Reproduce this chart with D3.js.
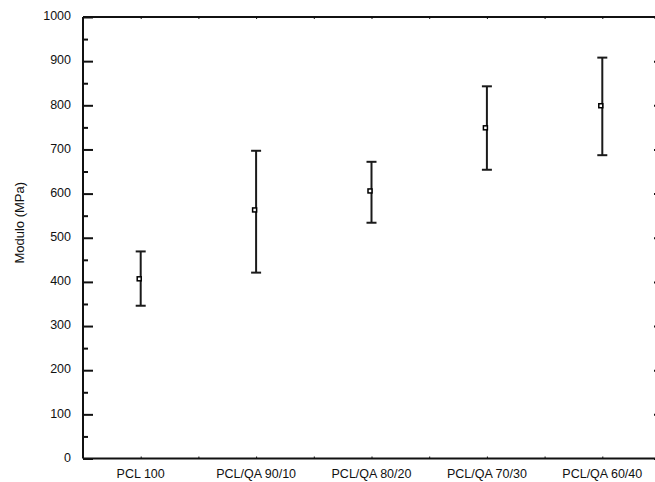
<!DOCTYPE html>
<html>
<head>
<meta charset="utf-8">
<script src="https://cdn.jsdelivr.net/npm/d3@7"></script>
<style>
  html, body { margin: 0; padding: 0; background: #fff; }
  svg { display: block; }
  text { font-family: Arial, "Liberation Sans", sans-serif; fill: #111; }
</style>
</head>
<body>
<script>
// ---- data ----
const categories = ["PCL 100", "PCL/QA 90/10", "PCL/QA 80/20", "PCL/QA 70/30", "PCL/QA 60/40"];
const meanValues = [407, 563, 606, 749, 799];
const upperValues = [469, 697, 672, 843, 908];
const lowerValues = [346, 421, 534, 654, 687];
const yTickValues = [0, 100, 200, 300, 400, 500, 600, 700, 800, 900, 1000];
const yMinorValues = [50, 150, 250, 350, 450, 550, 650, 750, 850, 950];
const yLabel = "Modulo (MPa)";

// ---- layout ----
const W = 655, H = 482;
const plotLeft = 83, plotTop = 17, plotBottom = 458.5, rightFrame = 664;

const svg = d3.select("body").append("svg").attr("width", W).attr("height", H);

const x = d3.scaleLinear().domain([0.5, 5.5]).range([plotLeft, 660]);
const y = d3.scaleLinear().domain([0, 1000]).range([plotBottom, plotTop]);

const axisColor = "#111";

// frame
const frame = svg.append("g");
frame.append("line").attr("x1", plotLeft).attr("x2", plotLeft).attr("y1", plotTop).attr("y2", plotBottom)
  .attr("stroke", axisColor).attr("stroke-width", 2);
frame.append("line").attr("x1", plotLeft).attr("x2", rightFrame).attr("y1", plotTop).attr("y2", plotTop)
  .attr("stroke", axisColor).attr("stroke-width", 2);
frame.append("line").attr("x1", plotLeft).attr("x2", rightFrame).attr("y1", plotBottom).attr("y2", plotBottom)
  .attr("stroke", axisColor).attr("stroke-width", 2);
frame.append("line").attr("x1", rightFrame).attr("x2", rightFrame).attr("y1", plotTop).attr("y2", plotBottom)
  .attr("stroke", axisColor).attr("stroke-width", 2);

// left axis (ticks inward)
const yAxisLeft = d3.axisLeft(y).tickValues(yTickValues).tickSizeInner(-10).tickSizeOuter(0).tickPadding(12)
  .tickFormat(d3.format("d"));
const gL = svg.append("g").attr("transform", `translate(${plotLeft},0)`).call(yAxisLeft);
gL.select(".domain").remove();
gL.selectAll(".tick line").attr("stroke", axisColor).attr("stroke-width", 2);
gL.selectAll(".tick text").attr("font-size", "12.5px").attr("dy", "0.22em")
  .style("font-family", "Arial, 'Liberation Sans', sans-serif").attr("fill", "#111");

const yMinorLeft = d3.axisLeft(y).tickValues(yMinorValues).tickSizeInner(-5).tickSizeOuter(0).tickFormat("");
const gLm = svg.append("g").attr("transform", `translate(${plotLeft},0)`).call(yMinorLeft);
gLm.select(".domain").remove();
gLm.selectAll(".tick line").attr("stroke", axisColor).attr("stroke-width", 2);

// right axis (ticks inward)
const yAxisRight = d3.axisRight(y).tickValues(yTickValues).tickSizeInner(-10).tickSizeOuter(0).tickFormat("");
const gR = svg.append("g").attr("transform", `translate(${rightFrame},0)`).call(yAxisRight);
gR.select(".domain").remove();
gR.selectAll(".tick line").attr("stroke", axisColor).attr("stroke-width", 2);

// bottom / top axes
const xTicks = [1, 1.5, 2, 2.5, 3, 3.5, 4, 4.5, 5];
const xAxisBottom = d3.axisBottom(x).tickValues(xTicks).tickSizeInner(-2).tickSizeOuter(0).tickFormat("");
const gB = svg.append("g").attr("transform", `translate(0,${plotBottom})`).call(xAxisBottom);
gB.select(".domain").remove();
gB.selectAll(".tick line").attr("stroke", axisColor).attr("stroke-width", 1);

const xAxisTop = d3.axisTop(x).tickValues(xTicks).tickSizeInner(-2).tickSizeOuter(0).tickFormat("");
const gT = svg.append("g").attr("transform", `translate(0,${plotTop})`).call(xAxisTop);
gT.select(".domain").remove();
gT.selectAll(".tick line").attr("stroke", axisColor).attr("stroke-width", 1);

// category labels
svg.append("g").selectAll("text").data(categories).join("text")
  .attr("x", (d, i) => x(i + 1))
  .attr("y", 478)
  .attr("text-anchor", "middle")
  .attr("font-size", "12.5px")
  .text(d => d);

// y label
svg.append("text")
  .attr("transform", `translate(24,${(plotTop + plotBottom) / 2 - 15}) rotate(-90)`)
  .attr("text-anchor", "middle")
  .attr("font-size", "13px")
  .text(yLabel);

// error bars
const data = categories.map((c, i) => ({ c, i, m: meanValues[i], hi: upperValues[i], lo: lowerValues[i] }));
const eb = svg.append("g").attr("stroke", "#1a1a1a").attr("stroke-width", 2);
eb.selectAll(".v").data(data).join("line")
  .attr("x1", d => x(d.i + 1)).attr("x2", d => x(d.i + 1))
  .attr("y1", d => y(d.hi)).attr("y2", d => y(d.lo));
eb.selectAll(".ct").data(data).join("line")
  .attr("x1", d => x(d.i + 1) - 5).attr("x2", d => x(d.i + 1) + 5)
  .attr("y1", d => y(d.hi)).attr("y2", d => y(d.hi));
eb.selectAll(".cb").data(data).join("line")
  .attr("x1", d => x(d.i + 1) - 5).attr("x2", d => x(d.i + 1) + 5)
  .attr("y1", d => y(d.lo)).attr("y2", d => y(d.lo));

// markers
svg.append("g").selectAll("rect").data(data).join("rect")
  .attr("x", d => x(d.i + 1) - 3.5)
  .attr("y", d => y(d.m) - 2)
  .attr("width", 4).attr("height", 4)
  .attr("fill", "#fff").attr("stroke", "#000").attr("stroke-width", 1.5);
</script>
</body>
</html>
